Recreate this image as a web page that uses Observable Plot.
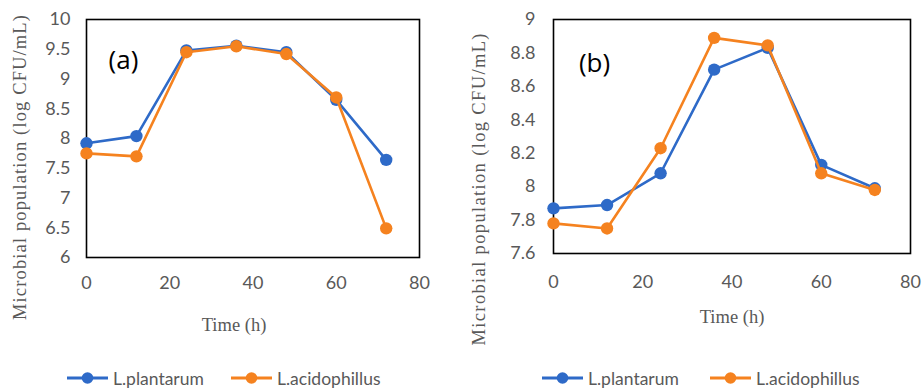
<!DOCTYPE html>
<html>
<head>
<meta charset="utf-8">
<script src="https://cdn.jsdelivr.net/npm/d3@7"></script>
<script src="https://cdn.jsdelivr.net/npm/@observablehq/plot@0.6"></script>
<style>
  html, body { margin: 0; padding: 0; background: white; }
  #wrap { position: relative; width: 922px; height: 391px; overflow: hidden; }
  .panel { position: absolute; top: 0; }
  .legend { position: absolute; top: 369px; font-family: Lato, "Open Sans", sans-serif; font-size: 17.5px; color: #595959; }
  .item { position: absolute; top: 0; white-space: nowrap; display: flex; align-items: center; height: 18px; }
  .item svg { margin-right: 5px; }
</style>
</head>
<body>
<div id="wrap"></div>
<script>
// ---- data ----
const hours = [0, 12, 24, 36, 48, 60, 72];
const seriesNames = ["L.plantarum", "L.acidophillus"];
const seriesColors = ["#2E6AC8", "#F5821F"];
const plantarumA = [7.92, 8.04, 9.48, 9.56, 9.45, 8.65, 7.64];
const acidophillusA = [7.75, 7.70, 9.45, 9.55, 9.42, 8.69, 6.49];
const plantarumB = [7.87, 7.89, 8.08, 8.70, 8.83, 8.13, 7.99];
const acidophillusB = [7.78, 7.75, 8.23, 8.89, 8.845, 8.08, 7.98];
const xTicks = [0, 20, 40, 60, 80];
const yTicksA = [6, 6.5, 7, 7.5, 8, 8.5, 9, 9.5, 10];
const yTicksB = [7.6, 7.8, 8, 8.2, 8.4, 8.6, 8.8, 9];
const panelLabels = ["(a)", "(b)"];
const xLabel = "Time (h)";
const yLabel = "Microbial population (log CFU/mL)";

function rows(name, values) {
  return hours.map((h, i) => ({hour: h, value: values[i], series: name}));
}

function panel(cfg) {
  const data = [rows(seriesNames[0], cfg.s1), rows(seriesNames[1], cfg.s2)];
  const marks = [
    Plot.frame({stroke: "black", strokeWidth: 1.6}),
    Plot.axisX({ticks: xTicks, tickSize: 0, tickPadding: cfg.xPad, label: null, fontSize: 18}),
    Plot.axisY({ticks: cfg.yTicks, tickSize: 0, tickPadding: cfg.yPad, label: null, fontSize: 18,
      tickFormat: d => String(+d.toFixed(1))})
  ];
  data.forEach((d, i) => {
    marks.push(Plot.line(d, {x: "hour", y: "value", stroke: seriesColors[i], strokeWidth: 2.6}));
    marks.push(Plot.dot(d, {x: "hour", y: "value", fill: seriesColors[i], r: 6.2, stroke: "none"}));
  });
  marks.push(Plot.text([cfg.tag], {frameAnchor: "top-left", textAnchor: "middle", dx: cfg.tagDx, dy: cfg.tagDy,
    fontSize: 26, fill: "black", fontFamily: "Open Sans, Lato, sans-serif"}));
  marks.push(Plot.text([xLabel], {frameAnchor: "bottom", textAnchor: "middle", dx: cfg.xlDx, dy: cfg.xlDy,
    fontSize: 18.5, fill: "#595959", fontFamily: "Liberation Serif, serif"}));
  marks.push(Plot.text([yLabel], {frameAnchor: "left", textAnchor: "middle", dx: cfg.ylDx, dy: cfg.ylDy, rotate: -90,
    fontSize: 18.5, fill: "#595959", fontFamily: "Liberation Serif, serif"}));
  const svg = Plot.plot({
    width: 461, height: 350,
    marginLeft: cfg.ml, marginRight: cfg.mr, marginTop: 19, marginBottom: cfg.mb,
    x: {domain: [0, 80]},
    y: {domain: cfg.yDomain},
    style: {fontFamily: "Lato, 'Open Sans', sans-serif", fontSize: "18px", color: "#595959", background: "white", overflow: "visible"},
    marks
  });
  d3.select(svg).selectAll("text").filter(function() { return this.textContent === yLabel; })
    .attr("textLength", cfg.ylLen).attr("lengthAdjust", "spacing");
  return svg;
}

const wrap = document.getElementById("wrap");
const cfgs = [
  {s1: plantarumA, s2: acidophillusA, yTicks: yTicksA, yDomain: [6, 10], tag: panelLabels[0],
   ml: 86, mr: 42, mb: 93, xPad: 19, yPad: 16, tagDx: 37, tagDy: 31,
   xlDx: -19, xlDy: 73, ylDx: -66, ylDy: 29, ylLen: 305, left: 0},
  {s1: plantarumB, s2: acidophillusB, yTicks: yTicksB, yDomain: [7.6, 9], tag: panelLabels[1],
   ml: 92, mr: 12, mb: 97, xPad: 22, yPad: 18, tagDx: 41, tagDy: 34,
   xlDx: 0, xlDy: 69, ylDx: -74, ylDy: 53, ylLen: 312, left: 461}
];
cfgs.forEach(c => {
  const div = document.createElement("div");
  div.className = "panel";
  div.style.left = c.left + "px";
  div.appendChild(panel(c));
  wrap.appendChild(div);
});

// legends
const legendPos = [[67, 231], [542, 710]];
legendPos.forEach(pos => {
  const lg = document.createElement("div");
  lg.className = "legend";
  lg.style.left = "0px";
  seriesNames.forEach((name, i) => {
    const it = document.createElement("div");
    it.className = "item";
    it.style.left = pos[i] + "px";
    it.innerHTML = `<svg width="41" height="14"><line x1="0" x2="41" y1="7" y2="7" stroke="${seriesColors[i]}" stroke-width="3"/><circle cx="20.5" cy="7" r="5.8" fill="${seriesColors[i]}"/></svg><span>${name}</span>`;
    lg.appendChild(it);
  });
  wrap.appendChild(lg);
});
</script>
</body>
</html>
